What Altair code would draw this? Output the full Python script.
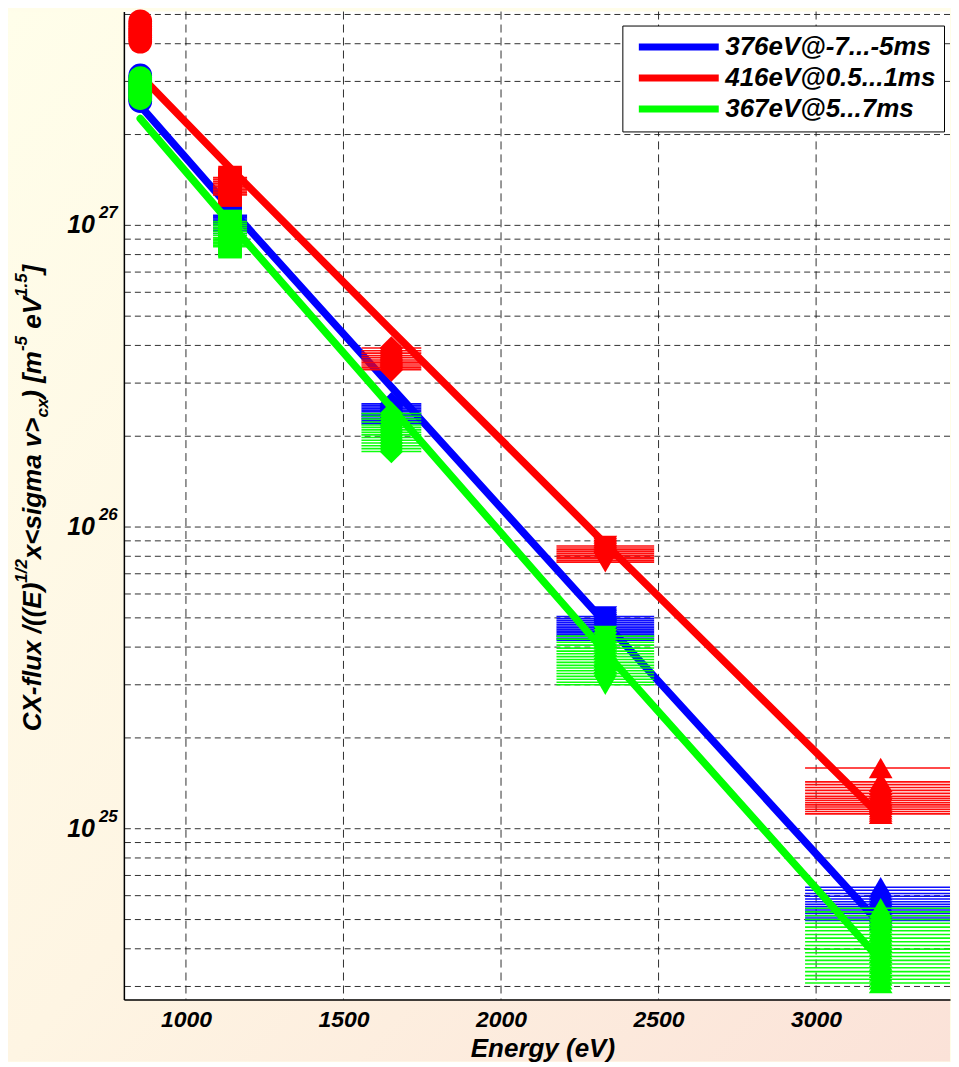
import altair as alt
import pandas as pd

# ---------------- data ----------------
series_names = ["376eV@-7...-5ms", "416eV@0.5...1ms", "367eV@5...7ms"]
series_colors = ["#0000FF", "#FF0000", "#00FF00"]

channel_ids = ["1", "2", "3", "4", "5"]
channel_energy = [855, 1140, 1652, 2331, 3205]
channel_halfwidth = [24, 54, 95, 155, 240]
channel_shapes = ["circle", "square", "diamond", "triangle-down", "triangle-up"]

# fitted curves, read at the channel energies
fit_blue = [2.49e27, 1.14e27, 2.91e26, 4.81e25, 4.81e24]
fit_red = [3.14e27, 1.55e27, 4.49e26, 8.8e25, 1.10e25]
fit_green = [2.26e27, 1.016e27, 2.49e26, 3.85e25, 3.66e24]

# measured points (one list per energy channel)
blue_pts = [
    [3.14e27, 3.09e27, 3.04e27, 2.99e27, 2.95e27, 2.90e27, 2.86e27, 2.82e27, 2.78e27,
     2.74e27, 2.70e27, 2.66e27, 2.62e27, 2.58e27],
    [1.08e27, 1.07e27, 1.06e27, 1.05e27, 1.04e27, 1.03e27, 1.02e27, 1.01e27, 1.00e27,
     9.8e26, 9.6e26, 9.4e26],
    [2.56e26, 2.53e26, 2.50e26, 2.47e26, 2.44e26, 2.41e26, 2.38e26, 2.35e26, 2.32e26,
     2.29e26, 2.26e26, 2.23e26, 2.20e26],
    [5.05e25, 4.97e25, 4.90e25, 4.83e25, 4.76e25, 4.70e25, 4.64e25, 4.58e25, 4.52e25,
     4.46e25, 4.40e25, 4.34e25, 4.28e25, 4.22e25],
    [6.40e24, 6.25e24, 6.10e24, 5.97e24, 5.85e24, 5.73e24, 5.62e24, 5.52e24, 5.42e24,
     5.33e24, 5.24e24, 5.15e24, 5.06e24, 4.97e24],
]
red_pts = [
    [4.75e27, 4.66e27, 4.57e27, 4.49e27, 4.41e27, 4.34e27, 4.27e27, 4.20e27, 4.13e27, 4.06e27],
    [1.44e27, 1.42e27, 1.40e27, 1.38e27, 1.36e27, 1.345e27, 1.33e27, 1.315e27, 1.30e27,
     1.285e27, 1.27e27, 1.26e27],
    [3.92e26, 3.84e26, 3.77e26, 3.70e26, 3.64e26, 3.58e26, 3.52e26, 3.47e26, 3.42e26,
     3.37e26, 3.32e26],
    [8.65e25, 8.52e25, 8.40e25, 8.28e25, 8.17e25, 8.06e25, 7.95e25, 7.85e25, 7.75e25, 7.65e25],
    [1.59e25, 1.43e25, 1.40e25, 1.37e25, 1.34e25, 1.31e25, 1.28e25, 1.26e25, 1.24e25,
     1.22e25, 1.20e25, 1.18e25, 1.16e25, 1.14e25, 1.12e25],
]
green_pts = [
    [3.08e27, 3.02e27, 2.96e27, 2.91e27, 2.86e27, 2.81e27, 2.76e27, 2.72e27, 2.68e27, 2.64e27],
    [1.03e27, 1.015e27, 1.00e27, 9.85e26, 9.7e26, 9.55e26, 9.4e26, 9.25e26, 9.1e26, 9.0e26,
     8.9e26, 8.8e26, 8.7e26, 8.6e26, 8.5e26],
    [2.38e26, 2.33e26, 2.28e26, 2.23e26, 2.18e26, 2.14e26, 2.10e26, 2.06e26, 2.02e26,
     1.98e26, 1.94e26, 1.90e26, 1.86e26, 1.82e26, 1.78e26],
    [4.35e25, 4.25e25, 4.15e25, 4.06e25, 3.97e25, 3.88e25, 3.80e25, 3.72e25, 3.64e25,
     3.56e25, 3.48e25, 3.41e25, 3.34e25, 3.27e25, 3.20e25, 3.13e25, 3.06e25, 3.00e25],
    [5.45e24, 5.30e24, 5.15e24, 5.00e24, 4.86e24, 4.72e24, 4.59e24, 4.46e24, 4.34e24,
     4.22e24, 4.10e24, 3.99e24, 3.88e24, 3.77e24, 3.66e24, 3.56e24, 3.46e24, 3.36e24,
     3.26e24, 3.17e24, 3.08e24],
]

x_ticks = [1000, 1500, 2000, 2500, 3000]
y_decades = [1e25, 1e26, 1e27]
y_decade_exp = ["25", "26", "27"]
y_grid = [m * 10.0 ** e for e in (24, 25, 26, 27) for m in range(1, 10)
          if 2.8e24 < m * 10.0 ** e < 5.1e27]

x_title = "Energy (eV)"
y_title_parts = [("CX-flux /((E)", "n"), ("1/2", "sup"), ("x<sigma v>", "n"), ("cx", "sub"),
                 (") [m", "n"), ("-5", "sup"), (" eV", "n"), ("1.5", "sup"), ("]", "n")]

# ---------------- layout / style ----------------
W, H = 827, 989
TICK_FONT = "Liberation Sans Narrow, Arial Narrow, Liberation Sans"
TXT_FONT = "Liberation Sans, Arial"

xs = alt.Scale(domain=[803, 3425], nice=False, zero=False)
ys = alt.Scale(type="log", domain=[2.716e24, 5.113e27], nice=False)

x_axis = alt.Axis(values=x_ticks, format="d", labelFont=TICK_FONT, labelFontSize=23,
                  labelFontStyle="italic", labelFontWeight="bold", labelColor="black",
                  labelPadding=9, ticks=False, grid=False, domainColor="black", domainWidth=1.5,
                  title=x_title, titleFont=TXT_FONT, titleFontSize=26, titleFontStyle="italic",
                  titleFontWeight="bold", titleColor="black", titleX=419, titleY=57,
                  titleBaseline="alphabetic", titleAlign="center", zindex=1)
y_axis = alt.Axis(labels=False, ticks=False, grid=False, domainColor="black", domainWidth=1.5,
                  title=None, zindex=1)

legend = alt.Legend(title=None, orient="none", legendX=499, legendY=14, direction="vertical",
                    fillColor="white", strokeColor="black", padding=8,
                    symbolType="M-4,0H4", symbolSize=400, symbolStrokeWidth=7,
                    symbolOffset=35, labelOffset=33,
                    labelFont=TXT_FONT, labelFontSize=26, labelFontStyle="italic",
                    labelFontWeight="bold", labelColor="black", rowPadding=2,
                    cornerRadius=0, labelLimit=500)
color_enc = alt.Color("series:N", scale=alt.Scale(domain=series_names, range=series_colors),
                      legend=legend)

one = pd.DataFrame({"a": [0]})

bg = alt.Chart(one).mark_rect(
    color=alt.LinearGradient(gradient="linear",
                             stops=[alt.GradientStop(color="#FFFEEA", offset=0),
                                    alt.GradientStop(color="#FEF5E3", offset=0.5),
                                    alt.GradientStop(color="#FBE2D8", offset=1)],
                             x1=0, y1=0, x2=1, y2=1)
).encode(x=alt.value(-116), x2=alt.value(W), y=alt.value(0), y2=alt.value(1051))

plot_bg = alt.Chart(one).mark_rect(color="white").encode(
    x=alt.value(0), x2=alt.value(W), y=alt.value(0), y2=alt.value(H))

hgrid = alt.Chart(pd.DataFrame({"v": y_grid})).mark_rule(
    color="#1a1a1a", opacity=0.9, strokeWidth=1, strokeDash=[6, 4]
).encode(y=alt.Y("v:Q", scale=ys, axis=y_axis))

vgrid = alt.Chart(pd.DataFrame({"E": x_ticks})).mark_rule(
    color="#1a1a1a", opacity=0.9, strokeWidth=1, strokeDash=[8, 5]
).encode(x=alt.X("E:Q", scale=xs, axis=x_axis))

layers = [bg, plot_bg, hgrid, vgrid]

fits = [fit_blue, fit_red, fit_green]
pts_all = [blue_pts, red_pts, green_pts]
for name, col, fit, pts in zip(series_names, series_colors, fits, pts_all):
    rows = []
    for ci, (cid, e, hw) in enumerate(zip(channel_ids, channel_energy, channel_halfwidth)):
        for v in pts[ci]:
            rows.append({"series": name, "ch": cid, "E": e, "lo": e - hw, "hi": e + hw, "v": v})
    pdf = pd.DataFrame(rows)
    ldf = pd.DataFrame({"series": name, "E": channel_energy, "v": fit})

    err = alt.Chart(pdf).mark_rule(color=col, strokeWidth=1.6, opacity=0.95, clip=True).encode(
        x=alt.X("lo:Q", scale=xs, axis=x_axis), x2="hi:Q",
        y=alt.Y("v:Q", scale=ys, axis=y_axis))
    mk = alt.Chart(pdf).mark_point(filled=True, opacity=1, size=560, color=col).encode(
        x=alt.X("E:Q", scale=xs, axis=x_axis),
        y=alt.Y("v:Q", scale=ys, axis=y_axis),
        shape=alt.Shape("ch:N", scale=alt.Scale(domain=channel_ids, range=channel_shapes),
                        legend=None))
    ln = alt.Chart(ldf).mark_line(strokeWidth=7.5, strokeCap="round", strokeJoin="round").encode(
        x=alt.X("E:Q", scale=xs, axis=x_axis),
        y=alt.Y("v:Q", scale=ys, axis=y_axis),
        color=color_enc)
    layers += [err, mk, ln]

# y tick labels 10^n
ytd = pd.DataFrame({"v": y_decades, "e": y_decade_exp})
ten = alt.Chart(ytd).mark_text(text="10", align="right", baseline="alphabetic", dy=8,
                               font=TICK_FONT, fontSize=25, fontStyle="italic",
                               fontWeight="bold", color="black").encode(
    x=alt.value(-29), y=alt.Y("v:Q", scale=ys, axis=y_axis))
expo = alt.Chart(ytd).mark_text(align="left", baseline="alphabetic", dy=-7,
                                font=TICK_FONT, fontSize=17, fontStyle="italic",
                                fontWeight="bold", color="black").encode(
    x=alt.value(-25), y=alt.Y("v:Q", scale=ys, axis=y_axis), text="e:N")
layers += [ten, expo]

# y axis title made of pieces (rotated), with super/subscripts
WID = {'C': 722, 'X': 667, '-': 333, 'f': 333, 'l': 278, 'u': 611, 'x': 556, ' ': 278,
       '/': 278, '(': 333, ')': 333, 'E': 667, '1': 556, '2': 556, '<': 584, '>': 584,
       's': 556, 'i': 278, 'g': 611, 'm': 889, 'a': 556, 'v': 556, 'c': 556, '[': 333,
       ']': 333, '5': 556, 'e': 556, 'V': 667, '.': 278}
MAIN, SMALL = 26, 17
def twidth(t, fs):
    return sum(WID.get(ch, 556) for ch in t) * fs / 1000.0
sizes = {"n": MAIN, "sup": SMALL, "sub": SMALL}
shift = {"n": 0, "sup": -14, "sub": 7}
total = sum(twidth(t, sizes[k]) for t, k in y_title_parts)
base_x = -83
pos = 487 + total / 2
for t, k in y_title_parts:
    fs = sizes[k]
    lead = len(t) - len(t.lstrip(" "))
    start = pos - twidth(" " * lead, fs)
    layers.append(alt.Chart(one).mark_text(
        text=t.strip(" "), angle=270, align="left", baseline="alphabetic", font=TXT_FONT,
        fontSize=fs, fontStyle="italic", fontWeight="bold", color="black"
    ).encode(x=alt.value(base_x + shift[k]), y=alt.value(start)))
    pos -= twidth(t, fs)

chart = alt.layer(*layers).properties(width=W, height=H, padding=0).configure(
    background="#FFFDE9").configure_view(stroke=None, fill=None)

chart.save("out.html", embed_options={"renderer": "svg", "actions": False})
